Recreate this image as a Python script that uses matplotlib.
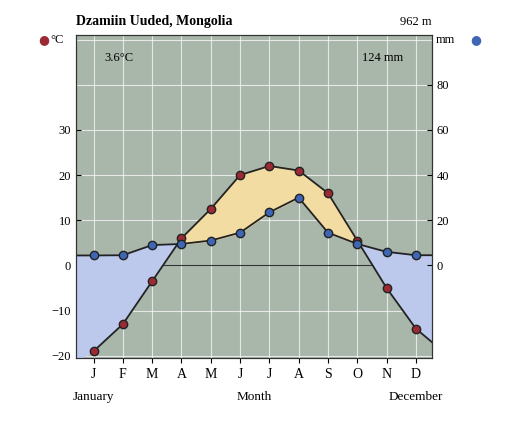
import matplotlib
matplotlib.use("Agg")
import matplotlib.pyplot as plt
import numpy as np

months = ["J","F","M","A","M","J","J","A","S","O","N","D"]
temp_c = [-19, -13, -3.5, 6, 12.5, 20, 22, 21, 16, 5.5, -5, -14]
precip_mm = [4.4, 4.5, 9, 9.5, 11, 14.5, 23.5, 30, 14.5, 9.5, 6, 4.5]
title = "Dzamiin Uuded, Mongolia"
elev = "962 m"
annual_t = "3.6°C"
annual_p = "124 mm"

plt.rcParams['font.family'] = ['Liberation Serif', 'DejaVu Serif']
fig = plt.figure(figsize=(5.16, 4.38), dpi=100)
fig.patch.set_facecolor('white')
ax = fig.add_axes([76/516, 1-358/438, (432-76)/516, (358-35)/438])
x = np.arange(1, 13)
p_scaled = np.array(precip_mm) / 2.0
t = np.array(temp_c)
ax.set_facecolor('#a9b6aa')
ax.set_xlim(0.4, 12.55)
ax.set_ylim(-20.5, 51)
for xi in x:
    ax.axvline(xi, color='white', lw=0.8, alpha=0.7, zorder=1)
for yi in range(-20, 51, 10):
    ax.axhline(yi, color='white', lw=0.8, alpha=0.7, zorder=1)
ax.axhline(0, color='#333', lw=0.8, zorder=1)
xf = np.linspace(1, 12, 500)
tf = np.interp(xf, x, t)
pf = np.interp(xf, x, p_scaled)
ax.fill_between(xf, tf, pf, where=tf >= pf, color='#f2dca2', zorder=2, interpolate=True)
ax.fill_between(xf, tf, pf, where=pf >= tf, color='#bcc9ec', zorder=2, interpolate=True)
ax.fill_between([0.4, 1], [-21, t[0]], [p_scaled[0]]*2, color='#bcc9ec', zorder=2)
ax.fill_between([12, 12.55], [t[-1], -17], [p_scaled[-1]]*2, color='#bcc9ec', zorder=2)
ax.plot(x, t, color='#222', lw=1.3, zorder=3)
ax.plot([12, 12.55], [t[-1], -17], color='#222', lw=1.3, zorder=3)
ax.plot(x, t, 'o', color='#9b2a35', mec='#222', ms=6, zorder=4)
ax.plot(np.r_[0.4, x, 12.55], np.r_[p_scaled[0], p_scaled, p_scaled[-1]], color='#222', lw=1.3, zorder=3)
ax.plot(x, p_scaled, 'o', color='#3e66b5', mec='#222', ms=6, zorder=4)
ax.set_xticks(x)
ax.set_xticklabels(months, fontsize=10)
ax.set_yticks(range(-20, 31, 10))
ax.tick_params(axis='y', labelsize=9, direction='in')
ax2 = ax.twinx()
ax2.set_ylim(-41, 102)
ax2.set_yticks(range(0, 81, 20))
ax2.tick_params(axis='y', labelsize=9, direction='in')
for a in (ax, ax2):
    for s in a.spines.values():
        s.set_color('#333')
ax.text(0.08, 0.92, annual_t, transform=ax.transAxes, fontsize=9)
ax.text(0.92, 0.92, annual_p, transform=ax.transAxes, fontsize=9, ha='right')
fig.text(76/516, 1-22/438, title, fontsize=10, fontweight='bold', va='center')
fig.text(432/516, 1-22/438, elev, fontsize=9, ha='right', va='center')
fig.text(38/516, 1-40/438, "●", color='#9b2a35', fontsize=9, va='center', family=['DejaVu Sans'])
fig.text(50/516, 1-40/438, "°C", fontsize=9, va='center')
fig.text(436/516, 1-40/438, "mm", fontsize=9, va='center')
fig.text(470/516, 1-40/438, "●", color='#3e66b5', fontsize=9, va='center', family=['DejaVu Sans'])
ax.text(1, -0.13, "January", transform=ax.get_xaxis_transform(), ha='center', fontsize=9.5)
ax.text(6.5, -0.13, "Month", transform=ax.get_xaxis_transform(), ha='center', fontsize=9.5)
ax.text(12, -0.13, "December", transform=ax.get_xaxis_transform(), ha='center', fontsize=9.5)
fig.savefig("out.png", dpi=100)
